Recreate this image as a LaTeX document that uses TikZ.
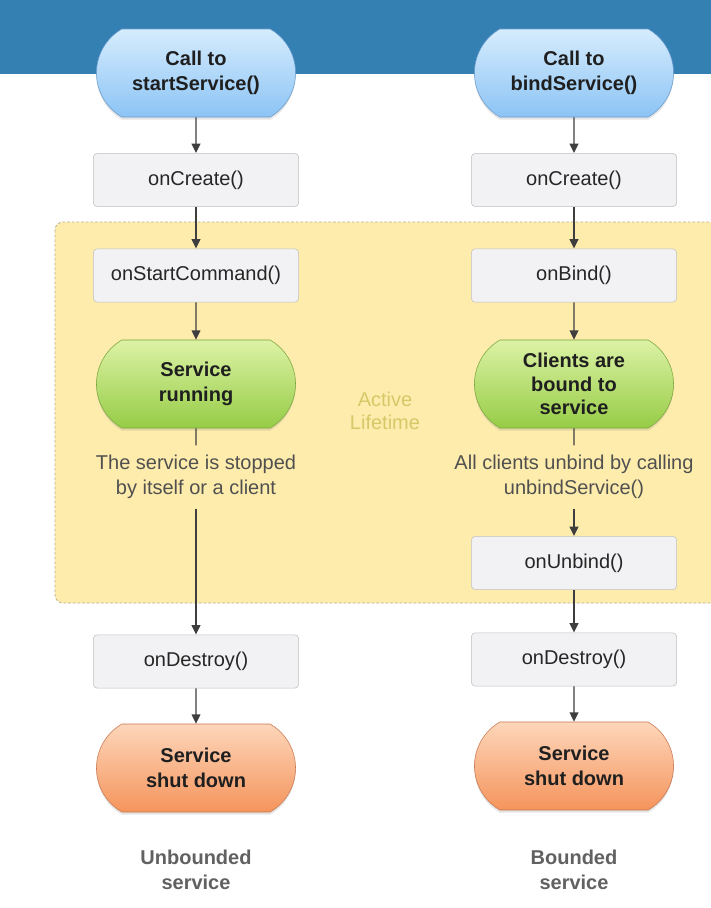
\documentclass[tikz,border=0pt]{standalone}
\usepackage{fontspec}
\setmainfont{Liberation Sans}
\usetikzlibrary{shapes.misc, arrows.meta, shadows}

\definecolor{bandblue}{RGB}{52,128,178}
\definecolor{activeyellow}{RGB}{254,236,172}
\definecolor{activeborder}{RGB}{185,175,145}
\definecolor{activetext}{RGB}{214,200,105}
\definecolor{boxfill}{RGB}{242,242,244}
\definecolor{boxborder}{RGB}{192,192,192}
\definecolor{bluetop}{RGB}{214,236,253}
\definecolor{bluebottom}{RGB}{140,196,245}
\definecolor{blueborder}{RGB}{105,155,205}
\definecolor{greentop}{RGB}{220,242,165}
\definecolor{greenbottom}{RGB}{150,204,70}
\definecolor{greenborder}{RGB}{120,165,60}
\definecolor{orangetop}{RGB}{253,214,186}
\definecolor{orangebottom}{RGB}{245,148,92}
\definecolor{orangeborder}{RGB}{200,118,78}
\definecolor{arrowgray}{RGB}{62,62,62}
\definecolor{notegray}{RGB}{80,80,80}

\tikzstyle{method} = [rectangle, rounded corners=3pt, minimum width=154pt, minimum height=40pt, text centered, draw=boxborder, fill=boxfill, text=black!85, font=\fontsize{15}{19}\selectfont]
\tikzstyle{state} = [rounded rectangle, rounded rectangle arc length=120, minimum width=156pt, minimum height=66pt, align=center, text=black!88, font=\fontsize{15}{19}\selectfont\bfseries, drop shadow={opacity=0.2, shadow xshift=0pt, shadow yshift=-2pt}]
\tikzstyle{startstate} = [state, draw=blueborder, top color=bluetop, bottom color=bluebottom]
\tikzstyle{runstate} = [state, draw=greenborder, top color=greentop, bottom color=greenbottom]
\tikzstyle{stopstate} = [state, draw=orangeborder, top color=orangetop, bottom color=orangebottom]
\tikzstyle{note} = [align=center, inner ysep=7pt, text=notegray, font=\fontsize{15}{19}\selectfont]
\tikzstyle{caption} = [align=center, text=black!62, font=\fontsize{15}{19}\selectfont\bfseries]
\tikzstyle{arrow} = [line width=1.1pt, draw=arrowgray, -{Triangle[length=7pt,width=6.5pt]}]
\tikzstyle{stub} = [line width=1.1pt, draw=arrowgray]

\begin{document}
\begin{tikzpicture}[x=0.75pt, y=-0.75pt]

    \useasboundingbox (0,0) rectangle (711,908);
    \fill [white] (0,0) rectangle (711,908);
    \fill [bandblue] (0,0) rectangle (711,74);
    \draw [fill=activeyellow, draw=activeborder, line width=0.6pt, dash pattern=on 2pt off 1.5pt, rounded corners=6pt] (55,222) rectangle (722,603);

    \node (start_call) [startstate] at (196,73) {Call to\\startService()};
    \node (create_start) [method] at (196,180) {onCreate()};
    \node (start_command) [method] at (196,275.5) {onStartCommand()};
    \node (running) [runstate] at (196,384) {Service\\running};
    \node (stop_note) [note] at (196,477) {The service is stopped\\by itself or a client};
    \node (destroy_start) [method] at (196,661.5) {onDestroy()};
    \node (shutdown_start) [stopstate] at (196,768) {Service\\shut down};
    \node (unbounded_label) [caption] at (196,870) {Unbounded\\service};

    \node (bind_call) [startstate] at (574,73) {Call to\\bindService()};
    \node (create_bind) [method] at (574,180) {onCreate()};
    \node (on_bind) [method] at (574,275.5) {onBind()};
    \node (bound) [runstate, font=\fontsize{15}{17.5}\selectfont\bfseries] at (574,384) {Clients are\\bound to\\service};
    \node (unbind_note) [note] at (574,477) {All clients unbind by calling\\unbindService()};
    \node (on_unbind) [method] at (574,563) {onUnbind()};
    \node (destroy_bind) [method] at (574,659.5) {onDestroy()};
    \node (shutdown_bind) [stopstate] at (574,766) {Service\\shut down};
    \node (bounded_label) [caption] at (574,870) {Bounded\\service};

    \node (active_label) [align=center, text=activetext, font=\fontsize{15}{17.5}\selectfont] at (385,411) {Active\\Lifetime};

    \draw [arrow] (start_call) -- (create_start);
    \draw [arrow] (create_start) -- (start_command);
    \draw [arrow] (start_command) -- (running);
    \draw [stub] (running) -- (stop_note);
    \draw [arrow] (stop_note) -- (destroy_start);
    \draw [arrow] (destroy_start) -- (shutdown_start);

    \draw [arrow] (bind_call) -- (create_bind);
    \draw [arrow] (create_bind) -- (on_bind);
    \draw [arrow] (on_bind) -- (bound);
    \draw [stub] (bound) -- (unbind_note);
    \draw [arrow] (unbind_note) -- (on_unbind);
    \draw [arrow] (on_unbind) -- (destroy_bind);
    \draw [arrow] (destroy_bind) -- (shutdown_bind);

\end{tikzpicture}
\end{document}
